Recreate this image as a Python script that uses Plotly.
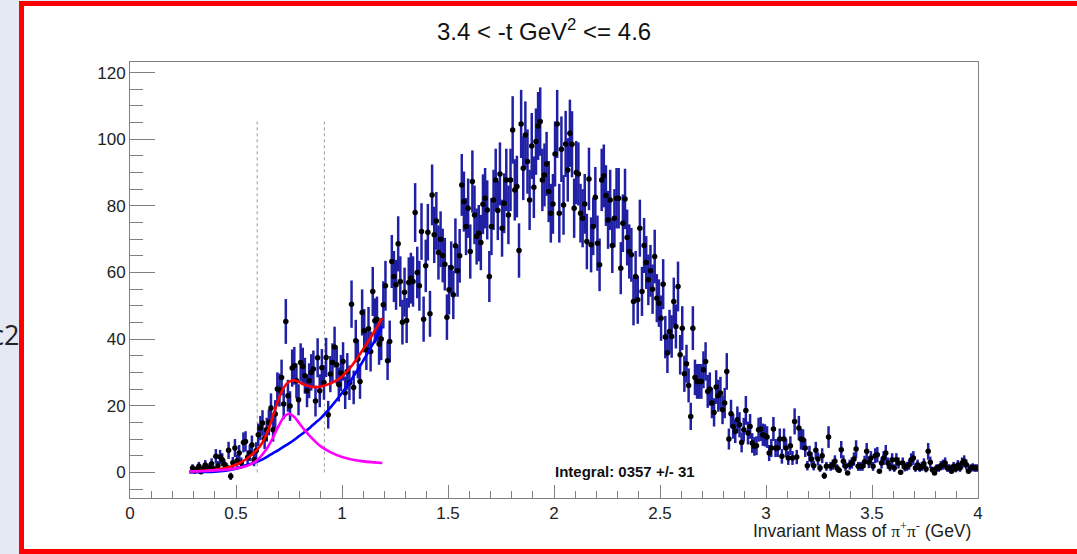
import numpy as np
import plotly.graph_objects as go

# ---------------- data ----------------
bin_first_center = 0.295
bin_width = 0.01

counts = [
    1.3, 0.4, 0.9, 1.8, 0.2, 1.1, 2.2, 0.7, 1.5, 2.6,          # 0.295-0.385
    1.0, 4.8, 2.0, 4.6, 3.8, 2.4, 1.6, 6.6, -1.2, 2.9,         # 0.395-0.485
    7.3, 3.5, 5.8, 2.8, 9.0, 9.3, 4.5, 5.8, 8.2, 3.8,          # 0.495-0.585
    6.5, 11.3, 13.3, 14.8, 10.2, 12.8, 15.0, 19.3, 12.8, 17.5, # 0.595-0.685
    25.0, 24.7, 28.5, 20.5, 45.3, 23.0, 19.9, 31.3, 32.0, 27.5,
    21.8, 33.0, 31.8, 29.0, 24.5, 27.5, 30.0, 31.0, 21.4, 34.4,
    24.5, 31.4, 27.0, 34.5, 17.3, 29.5, 33.0, 37.6, 32.3, 26.4,
    29.8, 33.3, 23.9, 30.3, 26.9, 50.5, 25.5, 39.5, 34.0, 27.3,
    48.0, 42.5, 36.8, 43.1, 36.3, 54.3, 45.5, 46.0, 38.5, 40.0,
    50.3, 56.0, 33.5, 39.3, 63.3, 58.8, 56.3, 68.6, 57.3, 45.1,
    54.1, 45.6, 57.0, 58.3, 57.3, 78.0, 60.0, 56.0, 72.3, 46.0,
    62.0, 72.1, 47.6, 83.3, 71.3, 75.5, 66.0, 70.0, 65.1, 62.5,
    46.6, 54.8, 61.5, 53.3, 68.0, 60.5, 65.0, 86.3, 81.3, 73.8,
    79.3, 66.3, 87.3, 77.3, 70.8, 71.8, 69.0, 80.5, 82.3, 78.8,
    58.8, 73.8, 81.8, 87.8, 78.6, 89.6, 73.3, 80.8, 87.8, 77.3,
    87.8, 102.8, 84.8, 85.8, 66.6, 104.6, 91.3, 101.3, 93.3, 81.8,
    98.0, 85.6, 99.3, 104.0, 105.3, 87.8, 89.3, 92.6, 84.3, 77.8,
    80.6, 95.6, 104.6, 77.8, 97.0, 80.3, 98.6, 90.8, 101.8, 98.5,
    79.3, 90.0, 89.6, 77.8, 76.3, 80.6, 69.3, 88.1, 68.3, 73.8,
    82.6, 68.8, 62.3, 87.8, 89.0, 83.1, 75.8, 81.8, 68.1, 76.3,
    82.3, 82.3, 61.3, 74.8, 82.1, 70.5, 66.3, 65.3, 51.3, 58.8,
    51.8, 73.3, 54.3, 68.1, 63.0, 57.8, 60.5, 55.0, 64.8, 52.3,
    50.8, 46.3, 56.5, 40.6, 35.8, 42.3, 40.8, 51.3, 43.8, 55.8,
    35.3, 43.3, 29.6, 32.6, 26.1, 16.8, 43.3, 28.5, 27.3, 27.3,
    27.3, 30.8, 33.3, 24.3, 25.0, 20.8, 18.0, 25.6, 23.0, 23.8,
    18.8, 20.8, 30.3, 10.0, 17.6, 13.8, 12.3, 15.8, 14.3, 9.0,
    12.8, 18.6, 11.8, 13.8, 8.8, 7.8, 8.0, 12.8, 13.0, 11.3,
    11.1, 10.6, 5.8, 7.3, 13.0, 7.3, 7.3, 10.0, 4.8, 10.0,
    7.3, 4.3, 8.0, 4.3, 15.3, 4.6, 13.3, 10.0, 9.8, 7.3,
    2.0, 5.6, 4.0, 2.0, 6.6, 4.0, 1.3, 5.0, -1.0, 1.8,
    10.6, 1.8, 2.3, 3.3, 1.3, 0.6, 6.8, 3.3, 1.8, -0.2,
    2.3, 2.8, 4.0, 7.0, 1.8, 1.8, 1.8, 3.2, 6.3, 3.0,
    4.3, 1.8, 5.0, 5.3, 0.3, 2.8, 4.3, 5.8, 2.8, 1.6,
    3.8, 1.3, 3.8, 2.8, 0.0, 2.8, 1.5, 1.8, 2.3, 3.8,
    4.3, 1.3, 2.3, 1.3, 1.8, 2.6, 1.0, 6.3, 3.0, 0.8,
    -0.2, 1.3, 1.3, 2.0, 2.3, 2.8, 1.3, 1.3, 0.3, 1.8,
    1.0, 2.2, 1.3, 2.8, 3.3, 2.3, 0.3, 1.3, 1.5, 1.3,
    1.3,
]

# fit curves
fit_x = [0.28, 0.35, 0.40, 0.45, 0.50, 0.55, 0.60, 0.625, 0.65, 0.675,
         0.70, 0.725, 0.75, 0.775, 0.80, 0.825, 0.85, 0.875, 0.90, 0.95,
         1.00, 1.05, 1.10, 1.15, 1.19]
fit_total = [0.3, 0.5, 0.8, 1.3, 2.3, 4.1, 6.8, 9.0, 12.4, 17.0,
             21.8, 25.4, 27.2, 27.6, 27.0, 26.3, 25.8, 25.6, 25.8, 26.8,
             28.8, 32.3, 37.0, 42.0, 46.3]
fit_background = [0.0, 0.1, 0.2, 0.5, 1.1, 2.2, 3.2, 3.9, 4.8, 5.8,
                  6.7, 7.7, 8.7, 9.8, 11.0, 12.2, 13.5, 14.9, 16.3, 19.8,
                  23.8, 28.4, 33.5, 39.0, 43.8]
fit_signal = [0.3, 0.4, 0.6, 0.8, 1.2, 1.9, 3.6, 5.4, 7.6, 10.5,
              13.8, 16.5, 17.6, 16.6, 14.6, 12.6, 10.8, 9.2, 7.8, 5.9,
              4.6, 3.8, 3.3, 3.0, 2.8]

window_edges = [0.6, 0.917]
window_top = 105.3

title_text = "3.4 < -t GeV<sup>2</sup> <= 4.6"
integral_text = "<b>Integral: 0357 +/- 31</b>"
x_title = ("Invariant Mass of <span style='font-family:Liberation Serif'>"
           "π<sup>+</sup>π<sup>-</sup></span> (GeV)")
canvas_name = "c2"

# ---------------- figure ----------------
counts_arr = np.array(counts)
centers = bin_first_center + bin_width * np.arange(len(counts_arr))
errors = np.maximum(np.sqrt(np.abs(counts_arr)), 0.6)

W, H = 1077, 554
ML, MR, MT, MB = 130, 99, 62, 56
PW, PH = W - ML - MR, H - MT - MB


def px(xp):
    return (xp - ML) / PW


def py(yp):
    return (H - MB - yp) / PH


FONT = "Liberation Sans, Arial, Helvetica, sans-serif"

fig = go.Figure()

for xe in window_edges:
    fig.add_trace(go.Scatter(
        x=[xe, xe], y=[0, window_top], mode="lines",
        line=dict(color="#9a9a9a", width=1, dash="dot"),
        hoverinfo="skip", showlegend=False))

fig.add_trace(go.Scatter(
    x=centers, y=counts_arr, mode="markers",
    marker=dict(color="black", size=5.5),
    error_y=dict(type="data", array=errors, visible=True,
                 color="#2020a4", thickness=2.5, width=0),
    showlegend=False))

fig.add_trace(go.Scatter(x=fit_x, y=fit_background, mode="lines",
                         line=dict(color="#0000ff", width=2.6, shape="spline"),
                         showlegend=False))
fig.add_trace(go.Scatter(x=fit_x, y=fit_total, mode="lines",
                         line=dict(color="#ff0000", width=2.6, shape="spline"),
                         showlegend=False))
fig.add_trace(go.Scatter(x=fit_x, y=fit_signal, mode="lines",
                         line=dict(color="#ff00ff", width=2.6, shape="spline"),
                         showlegend=False))

axis_common = dict(showgrid=False, zeroline=False, showline=True, mirror=True,
                   linecolor="#808080", linewidth=1, ticks="inside",
                   tickcolor="#808080", tickwidth=1,
                   tickfont=dict(family=FONT, size=17, color="#222222"))

fig.update_xaxes(range=[0, 4], tick0=0, dtick=0.5, ticklen=13,
                 minor=dict(dtick=0.1, ticklen=7, ticks="inside",
                            tickcolor="#808080", tickwidth=1),
                 **axis_common)
fig.update_yaxes(range=[-7.7, 123.2], tick0=0, dtick=20, ticklen=25,
                 minor=dict(dtick=5, ticklen=13, ticks="inside",
                            tickcolor="#808080", tickwidth=1),
                 **axis_common)

fig.update_layout(
    width=W, height=H,
    margin=dict(l=ML, r=MR, t=MT, b=MB, pad=0),
    paper_bgcolor="#e4e9f4", plot_bgcolor="white",
    font=dict(family=FONT, color="#222222"),
    showlegend=False,
    shapes=[dict(type="rect", xref="paper", yref="paper", layer="below",
                 x0=px(21.5), x1=px(1095), y0=py(551.5), y1=py(3.5),
                 fillcolor="white", line=dict(color="#ff0000", width=5))],
    annotations=[
        dict(text=title_text, xref="paper", yref="paper", x=px(544), y=py(30),
             xanchor="center", yanchor="middle", showarrow=False,
             font=dict(family=FONT, size=24, color="#111111")),
        dict(text=integral_text, xref="paper", yref="paper", x=px(625), y=py(471),
             xanchor="center", yanchor="middle", showarrow=False,
             font=dict(family=FONT, size=15, color="#111111")),
        dict(text=x_title, xref="paper", yref="paper", x=px(973), y=py(530),
             xanchor="right", yanchor="middle", showarrow=False,
             font=dict(family=FONT, size=17.5, color="#222222")),
        dict(text=canvas_name, xref="paper", yref="paper", x=px(21), y=py(334),
             xanchor="right", yanchor="middle", showarrow=False,
             font=dict(family="Open Sans, sans-serif", size=27, color="#222222")),
    ],
)

fig.write_html("out.html", config={"displayModeBar": False},
               post_script="document.body.style.margin='0';"
                           "document.body.style.overflow='hidden';")
